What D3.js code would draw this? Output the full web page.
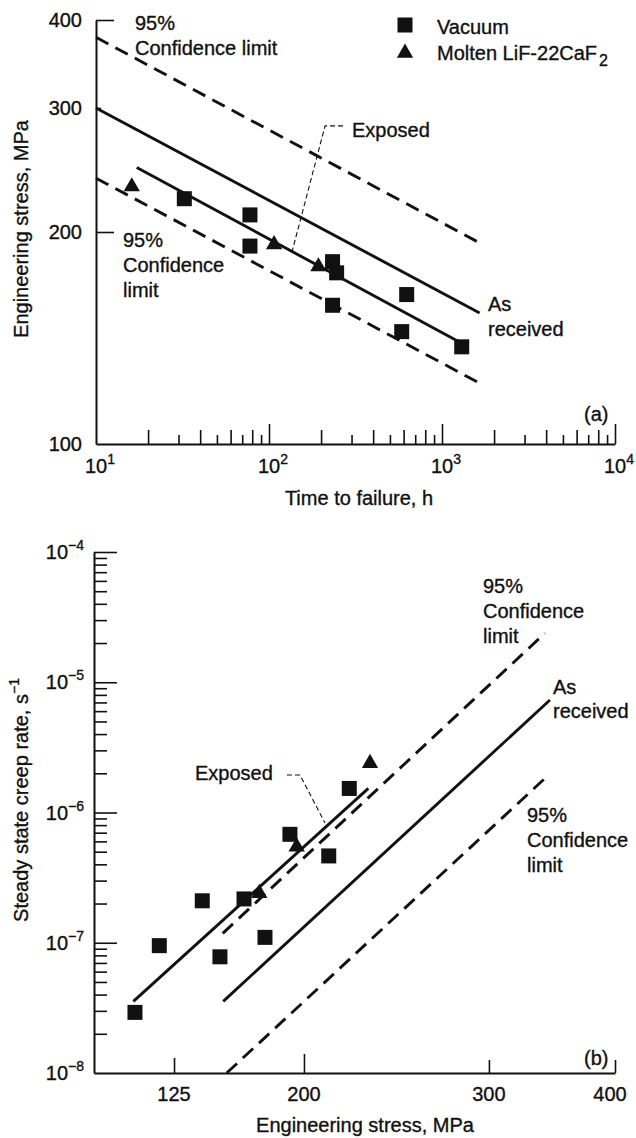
<!DOCTYPE html>
<html><head><meta charset="utf-8">
<script src="https://cdn.jsdelivr.net/npm/d3@7"></script>
<style>
body{margin:0;background:#fff}
text{font-family:"Liberation Sans",Arial,Helvetica,sans-serif;fill:#111;font-size:20px;stroke:#111;stroke-width:0.35px}
</style>
</head><body>
<svg id="c" width="636" height="1138"></svg>
<script>
// ---------- DATA: panel (a) ----------
const topXMajor = [10, 100, 1000, 10000];
const topXExp = ["1", "2", "3", "4"];
const topYTicks = [100, 200, 300, 400];
const topVacuum = [[32.4,223],[77.6,211.5],[77.6,191],[233,181.5],[246,175],[233,157.4],[625,163],[585,144.4],[1300,137.4]];
const topMolten = [[16.1,232],[107,192],[193,178.6]];
const topAsReceived = [[10,300],[1650,153.5]];
const topUpper = [[10,378],[1650,193]];
const topLower = [[10,238.5],[1650,122]];
const topExposed = [[17.2,247],[1300,139]];
const topLeader = [[268,283],[211,283],[135.9,187.5]];

// ---------- DATA: panel (b) ----------
const botXTicks = [125, 200, 300, 400];
const botXDomain = [100, 125, 200, 300, 400];
const botYMajor = [1e-8, 1e-7, 1e-6, 1e-5, 1e-4];
const botYExp = ["−8", "−7", "−6", "−5", "−4"];
const botVacuum = [[112.8,2.92e-8],[120.4,9.5e-8],[141.3,2.1e-7],[151.5,7.8e-8],[165.4,2.17e-7],[177.5,1.1e-7],[191.9,6.8e-7],[213.4,4.64e-7],[224.5,1.53e-6]];
const botMolten = [[174.2,2.4e-7],[195.8,5.46e-7],[235.7,2.39e-6]];
const botExposed = [[112.3,3.55e-8],[234.8,1.53e-6]];
const botAsReceived = [[153.4,3.55e-8],[348.4,7.3e-6]];
const botUpper = [[153.1,1.18e-7],[344.4,2.38e-5]];
const botLower = [[155.4,1e-8],[345.8,1.88e-6]];
const botLeader = [[190.2,1.94e-6],[197.7,1.94e-6],[211.4,8.3e-7]];

const svg = d3.select("#c");
const INK = "#111";

function drawLine(g, data, x, y, dashed, w) {
  g.append("path").datum(data)
    .attr("d", d3.line().x(d => x(d[0])).y(d => y(d[1])))
    .attr("fill", "none").attr("stroke", INK)
    .attr("stroke-width", w || 2.9)
    .attr("stroke-dasharray", dashed ? "14,8" : null);
}
function drawLeader(g, data, x, y) {
  g.append("path").datum(data)
    .attr("d", d3.line().x(d => x(d[0])).y(d => y(d[1])))
    .attr("fill", "none").attr("stroke", INK)
    .attr("stroke-width", 1.1).attr("stroke-dasharray", "5,3");
}
function drawSquares(g, data, x, y) {
  g.selectAll(null).data(data).enter().append("rect")
    .attr("x", d => x(d[0]) - 7.5).attr("y", d => y(d[1]) - 7.5)
    .attr("width", 15).attr("height", 15).attr("fill", INK);
}
function drawTris(g, data, x, y) {
  g.selectAll(null).data(data).enter().append("path")
    .attr("d", d3.symbol().type(d3.symbolTriangle).size(115))
    .attr("transform", d => `translate(${x(d[0])},${y(d[1])})`)
    .attr("fill", INK);
}
function multiText(g, x, y0, lines, dy) {
  lines.forEach((s, i) => g.append("text").attr("x", x).attr("y", y0 + i * dy).text(s));
}
function styleAxis(g) {
  g.select(".domain").attr("stroke", INK).attr("stroke-width", 2);
  g.selectAll(".tick line").attr("stroke", INK).attr("stroke-width", 1.6);
  g.selectAll(".tick text").remove();
}

// ================= PANEL (a) =================
const T = {l: 96, r: 615, t: 20, b: 444};
const xT = d3.scaleLog().domain([10, 1e4]).range([T.l, T.r]);
const yT = d3.scaleLog().domain([100, 400]).range([T.b, T.t]);
const gA = svg.append("g");

const topXAll = [];
for (let e = 1; e < 4; e++) for (let m = 1; m <= 9; m++) topXAll.push(m * Math.pow(10, e));
topXAll.push(1e4);
const axA = gA.append("g").attr("transform", `translate(0,${T.b})`)
  .call(d3.axisBottom(xT).tickValues(topXAll).tickSizeOuter(0).tickSizeInner(-10).tickFormat(""));
styleAxis(axA);
axA.selectAll(".tick line").attr("y2", d => {
  const m = Math.round(d / Math.pow(10, Math.floor(Math.log10(d) + 1e-9)));
  if (m === 1) return d === 10 ? 0 : -20;
  return (m % 2 === 0) ? -14 : -9;
});
topXMajor.forEach((v, i) => {
  const t = gA.append("text").attr("x", xT(v) + 4).attr("y", T.b + 29).attr("text-anchor", "middle");
  t.append("tspan").text("10");
  t.append("tspan").attr("dy", -9).style("font-size", "14px").text(topXExp[i]);
});

const axAY = gA.append("g").attr("transform", `translate(${T.l},0)`)
  .call(d3.axisLeft(yT).tickValues(topYTicks).tickSizeOuter(0).tickSizeInner(-18).tickFormat(""));
styleAxis(axAY);
axAY.selectAll(".tick line").attr("x2", d => d === 300 ? 5 : (d === 100 ? 0 : 18));
topYTicks.forEach(v => {
  gA.append("text").attr("x", T.l - 14).attr("y", yT(v) + 7).attr("text-anchor", "end").text(v);
});

drawLine(gA, topUpper, xT, yT, true);
drawLine(gA, topAsReceived, xT, yT, false);
drawLine(gA, topLower, xT, yT, true);
drawLine(gA, topExposed, xT, yT, false);
drawLeader(gA, topLeader, xT, yT);
drawSquares(gA, topVacuum, xT, yT);
drawTris(gA, topMolten, xT, yT);

multiText(gA, 135, 30, ["95%", "Confidence limit"], 25);
multiText(gA, 123, 247, ["95%", "Confidence", "limit"], 25);
gA.append("text").attr("x", 352).attr("y", 137).text("Exposed");
multiText(gA, 488, 311, ["As", "received"], 25);
gA.append("text").attr("x", 584).attr("y", 421).text("(a)");
gA.append("text").attr("x", 359).attr("y", 505).attr("text-anchor", "middle").text("Time to failure, h");
gA.append("text").attr("transform", `translate(28,229) rotate(-90)`).attr("text-anchor", "middle")
  .text("Engineering stress, MPa");

gA.append("rect").attr("x", 405 - 7.5).attr("y", 25 - 7.5).attr("width", 15).attr("height", 15).attr("fill", INK);
gA.append("path").attr("d", d3.symbol().type(d3.symbolTriangle).size(115)).attr("transform", "translate(405,53)").attr("fill", INK);
gA.append("text").attr("x", 437).attr("y", 34).text("Vacuum");
const lt = gA.append("text").attr("x", 437).attr("y", 60);
lt.append("tspan").text("Molten LiF-22CaF");
lt.append("tspan").attr("dx", 2).attr("dy", 6).style("font-size", "16px").text("2");

// ================= PANEL (b) =================
const B = {l: 94, r: 615, t: 552, b: 1073};
const bw = B.r - B.l;
const xB = d3.scaleLinear().domain(botXDomain)
  .range([0, 0.1536, 0.403, 0.758, 1].map(f => B.l + f * bw));
const yB = d3.scaleLog().domain([1e-8, 1e-4]).range([B.b, B.t]);
const gB = svg.append("g");

const axB = gB.append("g").attr("transform", `translate(0,${B.b})`)
  .call(d3.axisBottom(xB).tickValues(botXTicks).tickSizeOuter(0).tickSizeInner(-15).tickFormat(""));
styleAxis(axB);
axB.selectAll(".tick line").attr("y2", d => d === 200 ? -19 : (d === 125 ? -15 : -13));
botXTicks.forEach(v => {
  gB.append("text").attr("x", xB(v) - (v === 400 ? 5 : 0)).attr("y", B.b + 28).attr("text-anchor", "middle").text(v);
});

const botYAll = [];
for (let e = -8; e < -4; e++) for (let m = 1; m <= 9; m++) botYAll.push(m * Math.pow(10, e));
botYAll.push(1e-4);
const axBY = gB.append("g").attr("transform", `translate(${B.l},0)`)
  .call(d3.axisLeft(yB).tickValues(botYAll).tickSizeOuter(0).tickSizeInner(-13).tickFormat(""));
styleAxis(axBY);
axBY.selectAll(".tick line").attr("x2", (d, i) => (i % 9 === 0) ? (i === 0 ? 0 : 23) : 13);
botYMajor.forEach((v, i) => {
  const t = gB.append("text").attr("x", B.l - 10).attr("y", yB(v) + 7).attr("text-anchor", "end");
  t.append("tspan").text("10");
  t.append("tspan").attr("dy", -9).style("font-size", "14px").text(botYExp[i]);
});

drawLine(gB, botUpper, xB, yB, true);
drawLine(gB, botAsReceived, xB, yB, false);
drawLine(gB, botLower, xB, yB, true);
drawLine(gB, botExposed, xB, yB, false);
drawLeader(gB, botLeader, xB, yB);
drawSquares(gB, botVacuum, xB, yB);
drawTris(gB, botMolten, xB, yB);

multiText(gB, 483, 593, ["95%", "Confidence", "limit"], 25);
multiText(gB, 553, 694, ["As", "received"], 24);
multiText(gB, 527, 822, ["95%", "Confidence", "limit"], 25);
gB.append("text").attr("x", 195).attr("y", 780).text("Exposed");
gB.append("text").attr("x", 584).attr("y", 1065).text("(b)");
gB.append("text").attr("x", 365).attr("y", 1132).attr("text-anchor", "middle").text("Engineering stress, MPa");
const yl = gB.append("text").attr("transform", `translate(28,800) rotate(-90)`).attr("text-anchor", "middle");
yl.append("tspan").text("Steady state creep rate, s");
yl.append("tspan").attr("dy", -9).style("font-size", "14px").text("−1");
</script>
</body></html>
